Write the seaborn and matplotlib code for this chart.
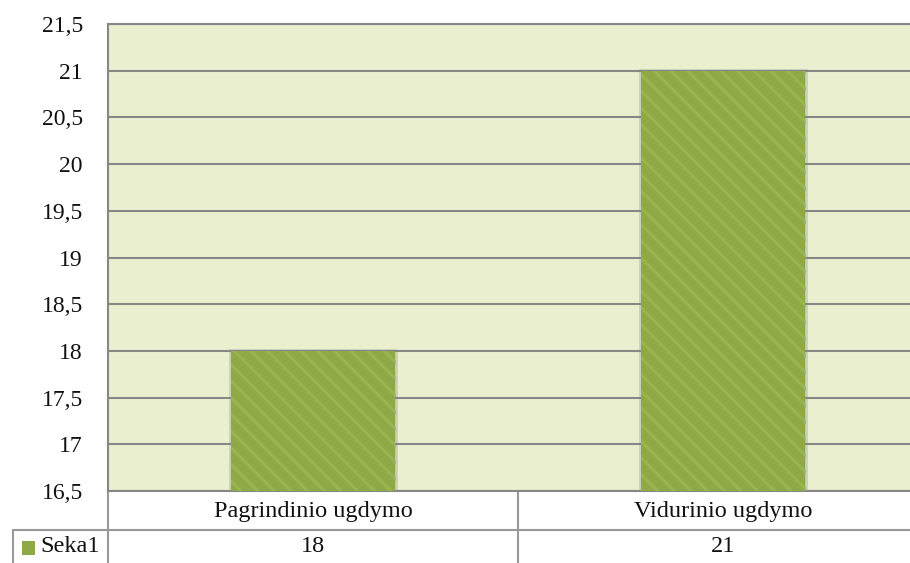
import matplotlib
matplotlib.use("Agg")
import matplotlib.pyplot as plt
import matplotlib.patheffects as pe
from matplotlib.ticker import FuncFormatter, MultipleLocator
from matplotlib.patches import Rectangle
import seaborn as sns
import pandas as pd

categories = ["Pagrindinio ugdymo", "Vidurinio ugdymo"]
values = [18, 21]
series_name = "Seka1"
y_min, y_max, y_step = 16.5, 21.5, 0.5

sns.set_style("white")
plt.rcParams["font.family"] = ["Liberation Serif", "DejaVu Serif"]
plt.rcParams["hatch.linewidth"] = 2.2

W, H = 910, 563
FS = 17
X0, X1 = 108, 928  # plot area extends slightly past the right edge
fig = plt.figure(figsize=(W / 100, H / 100), dpi=100)
ax = fig.add_axes([X0 / W, 1 - 491 / H, (X1 - X0) / W, (491 - 24) / H])

bar_color = "#8EA946"
stripe_color = "#99B551"
df = pd.DataFrame({"cat": categories, "val": values})
sns.barplot(data=df, x="cat", y="val", ax=ax, color=bar_color, width=0.40,
            saturation=1, zorder=3)
for p in ax.patches:
    p.set_hatch("\\\\")
    p.set_edgecolor(stripe_color)
    p.set_linewidth(0)
    p.set_path_effects([pe.Stroke(linewidth=3.5, foreground="#888888", alpha=0.3),
                        pe.Normal()])

ax.set_xlim(-0.5, 1.5)
ax.set_facecolor("#EAF0CF")
ax.set_ylim(y_min, y_max)
ax.yaxis.set_major_locator(MultipleLocator(y_step))
ax.yaxis.set_major_formatter(FuncFormatter(lambda v, _: f"{v:g}".replace(".", ",")))
ax.grid(axis="y", color="#878787", linewidth=1.5, zorder=1)
ax.set_axisbelow(True)
ax.tick_params(axis="y", length=0, pad=18, labelsize=FS, labelcolor="#111111")
ax.tick_params(axis="x", length=0)
ax.set_xticklabels([])
ax.set_xlabel("")
ax.set_ylabel("")
for s in ["left", "top", "bottom"]:
    ax.spines[s].set_color("#878787")
    ax.spines[s].set_linewidth(1.5)
ax.spines["right"].set_visible(False)

# Data table beneath the axis
lc = "#999999"
tr = ax.transAxes
def fy(py):
    return (491 - py) / (491 - 24)
def fx(px):
    return (px - X0) / (X1 - X0)

ax.plot([fx(13), 1], [fy(530), fy(530)], transform=tr, color=lc, lw=1.5, clip_on=False)
ax.plot([0, 0], [0, fy(563)], transform=tr, color=lc, lw=1.5, clip_on=False)
ax.plot([fx(13), fx(13)], [fy(530), fy(563)], transform=tr, color=lc, lw=1.5, clip_on=False)
ax.plot([0.5, 0.5], [0, fy(563)], transform=tr, color=lc, lw=1.5, clip_on=False)

xt = ax.get_xaxis_transform()
for i, (c, v) in enumerate(zip(categories, values)):
    ax.text(i, fy(511), c, transform=xt, ha="center", va="center", fontsize=FS + 0.5,
            color="#111111", clip_on=False)
    ax.text(i, fy(547), f"{v:g}".replace(".", ","), transform=xt, ha="center", va="center",
            fontsize=FS + 0.5, color="#111111", clip_on=False)

ax.add_patch(Rectangle((fx(22), fy(555)), fx(35) - fx(22), fy(541) - fy(555), transform=tr,
                       facecolor=bar_color, edgecolor="none", clip_on=False))
ax.text(fx(40), fy(547), series_name, transform=tr, ha="left", va="center", fontsize=FS + 0.5,
        color="#111111", clip_on=False)

fig.savefig("out.png", dpi=100)
